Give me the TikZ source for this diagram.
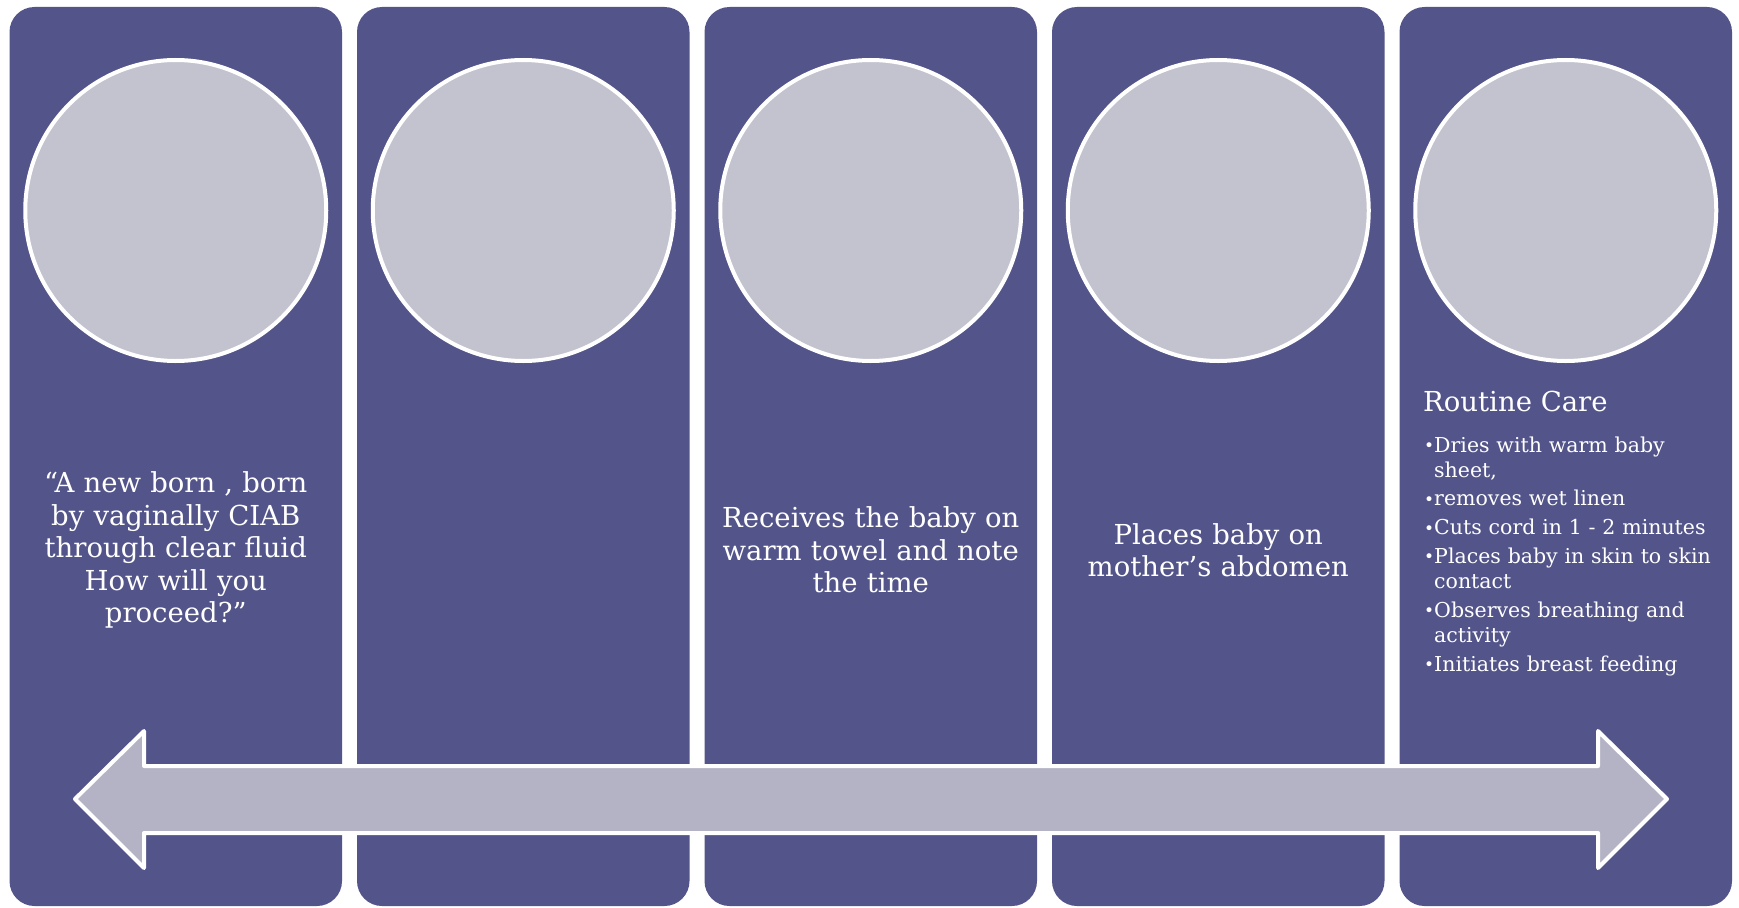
\documentclass[tikz,border=0pt]{standalone}
\usepackage{fontspec}
\setmainfont{DejaVu Serif}
\definecolor{panelc}{HTML}{535489}
\definecolor{discc}{HTML}{C3C3CF}
\definecolor{arrowc}{HTML}{B4B3C6}
\newcommand\bitem[1]{\par\hangindent=10pt\hangafter=1\noindent\makebox[10pt][l]{\raisebox{0.5pt}{\fontsize{17}{17}\selectfont\textbullet}}#1}
\begin{document}
\begin{tikzpicture}[x=1pt,y=-1pt,
  panel/.style={fill=panelc,draw=none,rounded corners=25pt,minimum width=332.5pt,minimum height=899pt,inner sep=0pt},
  disc/.style={circle,fill=discc,draw=white,line width=4pt,minimum size=301pt,inner sep=0pt},
  bigtext/.style={text=white,align=center,text width=320pt,inner sep=0pt,font=\fontsize{27.5}{32.5}\selectfont},
]
\useasboundingbox (0,0) rectangle (1739,907);
\node[panel] (p1) at (175.75,456.5) {};
\node[panel] (p2) at (523.25,456.5) {};
\node[panel] (p3) at (870.75,456.5) {};
\node[panel] (p4) at (1218.25,456.5) {};
\node[panel] (p5) at (1565.75,456.5) {};
\node[disc] (c1) at (175.75,210.5) {};
\node[disc] (c2) at (523.25,210.5) {};
\node[disc] (c3) at (870.75,210.5) {};
\node[disc] (c4) at (1218.25,210.5) {};
\node[disc] (c5) at (1565.75,210.5) {};
\draw[fill=arrowc,draw=white,line width=4pt,line join=round]
  (75,799) -- (144,731) -- (144,766) -- (1598,766) -- (1598,731) -- (1667,799)
  -- (1598,868) -- (1598,833) -- (144,833) -- (144,868) -- cycle;
\node[bigtext] (t1) at (175.75,550) {“A new born , born\\ by vaginally CIAB\\ through clear fluid\\ How will you\\ proceed?”};
\node[bigtext] (t3) at (870.75,550) {Receives the baby on\\ warm towel and note\\ the time};
\node[bigtext] (t4) at (1218.25,550) {Places baby on\\ mother’s abdomen};
\node[text=white,anchor=west,inner sep=0pt,font=\fontsize{27.5}{30}\selectfont] (t5) at (1423,401.5) {Routine Care};
\node[text=white,anchor=north west,inner sep=0pt,text width=300pt,align=left,
  font=\fontsize{20.5}{25}\selectfont] (b5) at (1424,423) {\setlength{\parskip}{3.8pt}\hyphenpenalty=10000 \exhyphenpenalty=10000 %
\bitem{Dries with warm baby sheet,}
\bitem{removes wet linen}
\bitem{Cuts cord in 1 - 2 minutes}
\bitem{Places baby in skin to skin contact}
\bitem{Observes breathing and activity}
\bitem{Initiates breast feeding}};
\end{tikzpicture}
\end{document}
